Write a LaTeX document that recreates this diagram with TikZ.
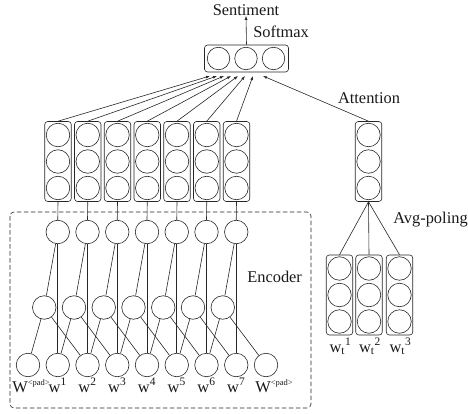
\documentclass[tikz,border=0pt]{standalone}
\usepackage{fontspec}
\setmainfont{Liberation Serif}
\usetikzlibrary{arrows.meta}

\begin{document}
\begin{tikzpicture}[x=1pt,y=-1pt,
  line width=0.6pt, draw=black!85,
  every node/.style={text=black!90},
  txt/.style={font=\fontsize{16.4}{19}\selectfont, inner sep=0pt},
  unit/.style={circle, draw, minimum size=23.5pt, inner sep=0pt},
  colbox/.style={draw, rounded corners=3pt, minimum width=26.5pt, minimum height=80pt, inner sep=0pt},
  tip/.style={-{Latex[length=4pt,width=3pt]}}]

\useasboundingbox (0,0) rectangle (468,414);

% ---- output layer ----
\node[draw, rounded corners=3pt, minimum width=84pt, minimum height=27pt, inner sep=0pt] (sm) at (246.5,58.5) {};
\foreach \n/\x in {a/218.5, b/246, c/273.5}
  \node[unit, minimum size=22.5pt] (sm\n) at (\x,58.5) {};
\node[txt] (sent) at (246,10) {Sentiment};
\node[txt, anchor=west] (smlab) at (253,32) {Softmax};
\draw[tip] (sm.north) -- (sent.south);

% arrow tips under the softmax layer
\foreach \i/\x in {1/210, 2/217, 3/224, 4/231, 5/238, 6/245, 7/253, 8/263}
  \coordinate (t\i) at (\x,76);

% ---- encoder outputs ----
\foreach \i in {1,...,7} {
  \pgfmathsetmacro{\cx}{58+29.75*(\i-1)}
  \node[colbox] (c\i) at (\cx,161.5) {};
  \node[unit] (c\i a) at (\cx,135) {};
  \node[unit] (c\i b) at (\cx,161.5) {};
  \node[unit] (c\i c) at (\cx,188) {};
  \draw[tip] (c\i.north) -- (t\i);
}

% ---- attention vector ----
\node[colbox] (att) at (368.5,161.5) {};
\node[unit] (atta) at (368.5,135) {};
\node[unit] (attb) at (368.5,161.5) {};
\node[unit] (attc) at (368.5,188) {};
\draw[tip] (att.north) -- (t8);
\node[txt] (attlab) at (369,98) {Attention};

% ---- target word vectors ----
\foreach \i/\x in {1/339.5, 2/369, 3/399.5} {
  \node[colbox] (p\i) at (\x,295) {};
  \node[unit] (p\i a) at (\x,268.5) {};
  \node[unit] (p\i b) at (\x,295) {};
  \node[unit] (p\i c) at (\x,321.5) {};
  \draw (att.south) -- (p\i.north);
  \node[txt, anchor=base] (pl\i) at (\x+1,352) {w\textsubscript{t}\textsuperscript{\i}};
}
\node[txt, anchor=west] (avglab) at (393,220) {Avg-poling};

% ---- encoder ----
\draw[dashed, dash pattern=on 4.5pt off 2.5pt, rounded corners=4pt] (10,212) rectangle (311,408);
\node[txt, anchor=west] (enclab) at (247,277) {Encoder};

% input words
\foreach \k in {0,...,8} {
  \pgfmathsetmacro{\bx}{28+29.75*\k}
  \node[unit] (b\k) at (\bx,365) {};
}
% gated units and top units
\foreach \j in {1,...,7} {
  \pgfmathsetmacro{\tx}{28+29.75*\j}
  \pgfmathtruncatemacro{\jl}{\j-1}
  \pgfmathtruncatemacro{\jr}{\j+1}
  \node[unit] (e\j) at (\tx,232) {};
  \node[unit] (m\j) at (\tx-13.5,307.5) {};
  \draw (c\j.south) -- (e\j.north);
  \draw (e\j) -- (m\j);
  \draw (e\j.south) -- (b\j.north);
  \draw (m\j) -- (b\jl);
  \draw (m\j) -- (b\jr);
}

% word labels
\node[txt, anchor=base west] (lw0) at (12,392) {W\textsuperscript{\fontsize{8.5}{9}\selectfont <pad>}};
\foreach \k in {1,...,7} {
  \pgfmathsetmacro{\bx}{28+29.75*\k}
  \node[txt, anchor=base] (lw\k) at (\bx,392) {w\textsuperscript{\k}};
}
\node[txt, anchor=base west] (lw8) at (255,392) {W\textsuperscript{\fontsize{8.5}{9}\selectfont <pad>}};
\end{tikzpicture}
\end{document}
